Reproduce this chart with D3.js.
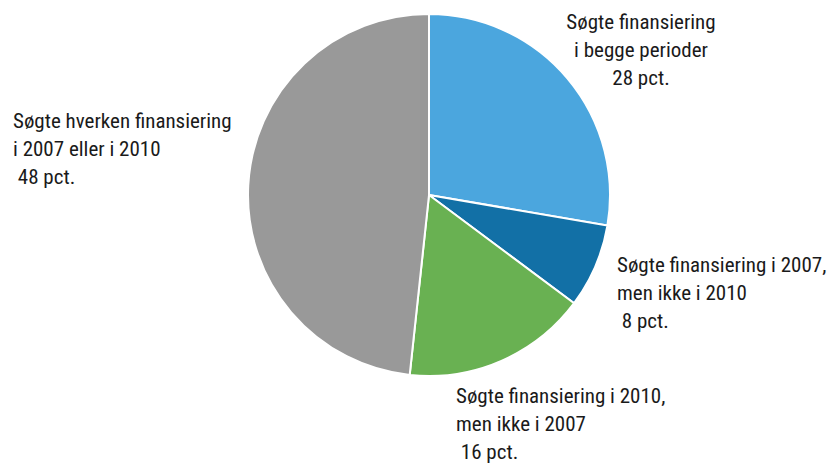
<!DOCTYPE html>
<html>
<head>
<meta charset="utf-8">
<script src="https://cdn.jsdelivr.net/npm/d3@7"></script>
<style>
  body { margin: 0; background: #fff; }
  text { font-family: "Liberation Sans Narrow", "Roboto Condensed", "Liberation Sans", sans-serif; font-size: 21px; fill: #1a1a1a; }
</style>
</head>
<body>
<svg id="chart" width="832" height="469"></svg>
<script>
// slice shares (clockwise from 12 o'clock)
const categories = ["begge", "kun2007", "kun2010", "hverken"]
const values = [27.7, 7.5, 16.5, 48.3]
const colors = ["#4ba6de", "#1270a6", "#69b152", "#999999"]
const labels = [
    ["Søgte finansiering", "i begge perioder", "28 pct."],
    ["Søgte finansiering i 2007,", "men ikke i 2010", " 8 pct."],
    ["Søgte finansiering i 2010,", "men ikke i 2007", " 16 pct."],
    ["Søgte hverken finansiering", "i 2007 eller i 2010", " 48 pct."]
]

const svg = d3.select("#chart")
const cx = 429, cy = 195, r = 181

const pie = d3.pie().sort(null).value(d => d)
const arc = d3.arc().innerRadius(0).outerRadius(r)

const g = svg.append("g").attr("transform", "translate(" + cx + "," + cy + ")")

g.selectAll("path")
    .data(pie(values))
    .enter().append("path")
    .attr("d", arc)
    .attr("fill", (d, i) => colors[i])
    .attr("stroke", "#fff")
    .attr("stroke-width", 2)

// label placement: x, first baseline, anchor
const labelPos = [
    {x: 641, y: 29, anchor: "middle"},
    {x: 617, y: 272, anchor: "start"},
    {x: 456, y: 403, anchor: "start"},
    {x: 13, y: 128, anchor: "start"}
]
const lineH = 28

labels.forEach((lines, i) => {
    const p = labelPos[i]
    const t = svg.append("text")
        .attr("x", p.x)
        .attr("y", p.y)
        .attr("text-anchor", p.anchor)
        .attr("xml:space", "preserve")
    lines.forEach((s, j) => {
        t.append("tspan")
            .attr("x", p.x)
            .attr("y", p.y + j * lineH)
            .text(s)
    })
})
</script>
</body>
</html>
